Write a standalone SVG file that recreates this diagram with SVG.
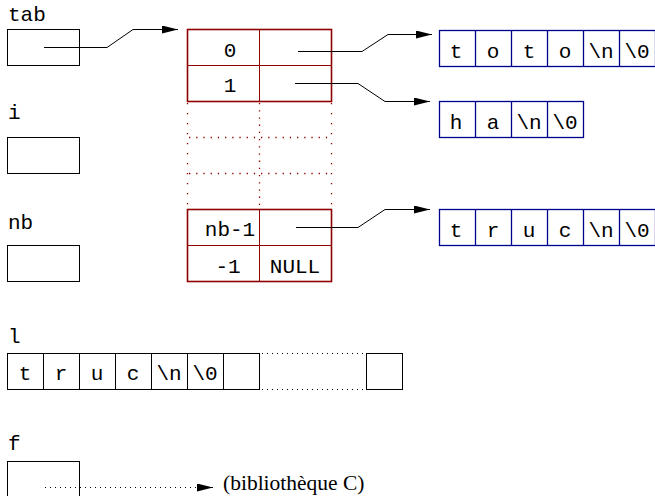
<svg xmlns="http://www.w3.org/2000/svg" width="655" height="496" viewBox="0 0 655 496">
<defs>
<style>
.m{font-family:"Liberation Mono","Courier New",monospace;font-size:21px;fill:#000}
.mc{font-family:"Liberation Mono","Courier New",monospace;font-size:21px;fill:#000;text-anchor:middle}
.box{fill:#fff;stroke:#000;stroke-width:1}
.red{fill:none;stroke:#900000;stroke-width:1}
.redo{fill:none;stroke:#900000;stroke-width:1.6}
.blue{fill:none;stroke:#000090;stroke-width:1.3}
.dr{fill:none;stroke:#900000;stroke-width:1.3}
.lk{fill:none;stroke:#000;stroke-width:1}
</style>
<marker id="ah" markerUnits="userSpaceOnUse" markerWidth="17" markerHeight="9" refX="16" refY="4" orient="auto">
<path d="M0,0 L16,4 L0,8 z" fill="#000"/>
</marker>
</defs>
<rect width="655" height="496" fill="#fff"/>

<g id="tab">
<text class="m" x="8" y="21">tab</text>
<rect class="box" x="7.5" y="29.5" width="72" height="36"/>
</g>
<g id="i">
<text class="m" x="8" y="119">i</text>
<rect class="box" x="7.5" y="137.5" width="72" height="36"/>
</g>
<g id="nb">
<text class="m" x="8" y="229">nb</text>
<rect class="box" x="7.5" y="245.5" width="72" height="36"/>
</g>

<g id="table">
<line class="red" x1="187.5" y1="65.5" x2="331.5" y2="65.5"/>
<line class="red" x1="259.5" y1="29.5" x2="259.5" y2="101.5"/>
<rect class="redo" x="187.5" y="29.5" width="144" height="72"/>
<line class="red" x1="187.5" y1="245.5" x2="331.5" y2="245.5"/>
<line class="red" x1="259.5" y1="209.5" x2="259.5" y2="281.5"/>
<rect class="redo" x="187.5" y="209.5" width="144" height="72"/>
<g class="dr" stroke-dasharray="1.3 8.7">
<line x1="187.5" y1="103" x2="187.5" y2="209"/>
<line x1="331.5" y1="103" x2="331.5" y2="209"/>
</g>
<g class="dr" stroke-dasharray="1.3 5.9">
<line x1="259.5" y1="103" x2="259.5" y2="209"/>
<line x1="189" y1="137.5" x2="331.5" y2="137.5"/>
<line x1="189" y1="173.5" x2="331.5" y2="173.5"/>
</g>
<text class="mc" x="230" y="57">0</text>
<text class="mc" x="230" y="92">1</text>
<text class="mc" x="230" y="236">nb-1</text>
<text class="mc" x="228" y="273">-1</text>
<text class="mc" x="295" y="273">NULL</text>
</g>

<g id="toto">
<rect class="blue" x="439.5" y="30.5" width="216" height="36"/>
<g class="blue"><line x1="475.5" y1="30.5" x2="475.5" y2="66.5"/><line x1="511.5" y1="30.5" x2="511.5" y2="66.5"/><line x1="547.5" y1="30.5" x2="547.5" y2="66.5"/><line x1="583.5" y1="30.5" x2="583.5" y2="66.5"/><line x1="619.5" y1="30.5" x2="619.5" y2="66.5"/></g>
<text class="mc" x="456" y="58">t</text>
<text class="mc" x="493" y="58">o</text>
<text class="mc" x="529" y="58">t</text>
<text class="mc" x="565" y="58">o</text>
<text class="mc" x="601" y="58">\n</text>
<text class="mc" x="637" y="58">\0</text>
</g>

<g id="ha">
<rect class="blue" x="439.5" y="101.5" width="144" height="36"/>
<g class="blue"><line x1="475.5" y1="101.5" x2="475.5" y2="137.5"/><line x1="511.5" y1="101.5" x2="511.5" y2="137.5"/><line x1="547.5" y1="101.5" x2="547.5" y2="137.5"/></g>
<text class="mc" x="456" y="129">h</text>
<text class="mc" x="493" y="129">a</text>
<text class="mc" x="529" y="129">\n</text>
<text class="mc" x="565" y="129">\0</text>
</g>

<g id="truc">
<rect class="blue" x="439.5" y="209.5" width="216" height="36"/>
<g class="blue"><line x1="475.5" y1="209.5" x2="475.5" y2="245.5"/><line x1="511.5" y1="209.5" x2="511.5" y2="245.5"/><line x1="547.5" y1="209.5" x2="547.5" y2="245.5"/><line x1="583.5" y1="209.5" x2="583.5" y2="245.5"/><line x1="619.5" y1="209.5" x2="619.5" y2="245.5"/></g>
<text class="mc" x="456" y="237">t</text>
<text class="mc" x="493" y="237">r</text>
<text class="mc" x="529" y="237">u</text>
<text class="mc" x="565" y="237">c</text>
<text class="mc" x="601" y="237">\n</text>
<text class="mc" x="637" y="237">\0</text>
</g>

<g id="l">
<text class="m" x="8" y="343">l</text>
<rect class="box" x="7.5" y="353.5" width="252" height="36"/>
<g class="lk"><line x1="43.5" y1="353.5" x2="43.5" y2="389.5"/><line x1="79.5" y1="353.5" x2="79.5" y2="389.5"/><line x1="115.5" y1="353.5" x2="115.5" y2="389.5"/><line x1="151.5" y1="353.5" x2="151.5" y2="389.5"/><line x1="187.5" y1="353.5" x2="187.5" y2="389.5"/><line x1="223.5" y1="353.5" x2="223.5" y2="389.5"/></g>
<g class="lk" stroke-dasharray="1 4"><line x1="262" y1="353.5" x2="366" y2="353.5"/><line x1="262" y1="389.5" x2="366" y2="389.5"/></g>
<rect class="box" x="366.5" y="353.5" width="36" height="36"/>
<text class="mc" x="25" y="380">t</text>
<text class="mc" x="61" y="380">r</text>
<text class="mc" x="97" y="380">u</text>
<text class="mc" x="133" y="380">c</text>
<text class="mc" x="169" y="380">\n</text>
<text class="mc" x="205" y="380">\0</text>
</g>

<g id="f">
<text class="m" x="8" y="450">f</text>
<rect class="box" x="7.5" y="461.5" width="72" height="40"/>
<text x="223" y="490" font-family="Liberation Serif,'Times New Roman',serif" font-size="21.5">(bibliothèque C)</text>
</g>

<g id="connectors" class="lk">
<polyline points="44,47.5 107,47.5 133,29.5 178,29.5" marker-end="url(#ah)"/>
<polyline points="298,51.5 362,51.5 388,34.5 432,34.5" marker-end="url(#ah)"/>
<polyline points="295,83.5 358,83.5 385,101.5 430,101.5" marker-end="url(#ah)"/>
<polyline points="296,227.5 358,227.5 385,209.5 430,209.5" marker-end="url(#ah)"/>
<line x1="45" y1="487.5" x2="199" y2="487.5" stroke-dasharray="1 4"/>
<line x1="197" y1="487.5" x2="213" y2="487.5" marker-end="url(#ah)"/>
</g>
</svg>
